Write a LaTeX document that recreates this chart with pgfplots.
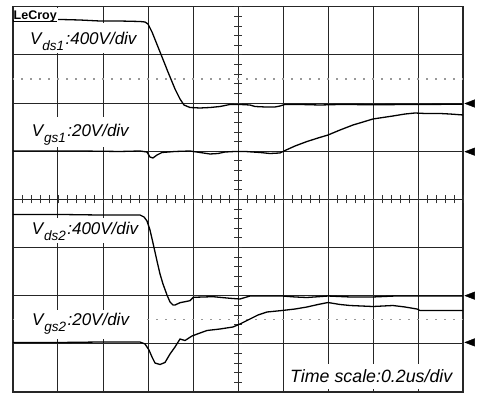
\documentclass[border=0pt]{standalone}
\usepackage{fontspec}
\setmainfont{Liberation Sans}
\usepackage{pgfplots}
\pgfplotsset{compat=1.18}
\newcommand{\lbl}[2]{{\fontsize{17}{20}\selectfont\itshape V\hspace{0.8pt}\raisebox{-6pt}{\fontsize{13.5}{14}\selectfont #1}\hspace{1.5pt}:#2}}
\begin{document}
\begin{tikzpicture}
\path[use as bounding box] (0,0) rectangle (480pt,394pt);
\fill[white] (0,0) rectangle (480pt,394pt);
\begin{axis}[
  at={(13pt,2pt)}, anchor=origin,
  scale only axis, width=450pt, height=385.3pt,
  xmin=0, xmax=10, ymin=0, ymax=8,
  xtick={0,...,10}, ytick={0,...,8},
  xticklabels={}, yticklabels={},
  major tick length=0pt,
  grid=major,
  grid style={black!85, line width=1pt},
  axis line style={black!85, line width=1.1pt},
  clip=false,
]
% centre graticule ticks
\pgfplotsinvokeforeach{0.2,0.4,...,9.9}{\draw[black!80, line width=0.8pt] (axis cs:#1,4) ++(0,-4pt) -- ++(0,8pt);}
\pgfplotsinvokeforeach{0.2,0.4,...,7.9}{\draw[black!80, line width=0.8pt] (axis cs:5,#1) ++(-4pt,0) -- ++(8pt,0);}
% dotted level lines
\draw[black!40, line width=1.3pt, dash pattern=on 1.3pt off 7.7pt, dash phase=0.65pt] (axis cs:0,6.5) -- (axis cs:10,6.5);
\draw[black!40, line width=1.3pt, dash pattern=on 1.3pt off 7.7pt, dash phase=0.65pt] (axis cs:0,1.5) -- (axis cs:10,1.5);
% label backgrounds
\fill[white] (axis cs:0.022,7.039) rectangle (axis cs:2.956,7.672);
\fill[white] (axis cs:0.022,5.087) rectangle (axis cs:2.956,5.710);
\fill[white] (axis cs:0.022,3.094) rectangle (axis cs:2.956,3.623);
\fill[white] (axis cs:0.022,1.100) rectangle (axis cs:2.956,1.703);
\fill[white] (axis cs:6.044,0.062) rectangle (axis cs:9.933,0.581);

% Vds1
\addplot[black, line width=1.3pt] coordinates {
(0,7.714) (0.6,7.724) (1.044,7.735) (1.489,7.724) (1.933,7.703) (2.378,7.703)
(2.822,7.693) (2.933,7.683) (3.0,7.641) (3.089,7.475) (3.267,7.060) (3.444,6.645)
(3.6,6.292) (3.711,6.084) (3.8,5.959) (3.933,5.907) (4.156,5.897) (4.378,5.907)
(4.6,5.928) (4.822,5.970) (5.044,5.970) (5.267,5.959) (5.378,5.928) (5.6,5.918)
(5.822,5.918) (5.933,5.938) (6.044,5.970) (6.378,5.970) (6.822,5.959) (7.267,5.970)
(8.0,5.965) (9.0,5.970) (10,5.975)};
% Vgs1
\addplot[black, line width=1.3pt] coordinates {
(0,5.004) (0.6,5.004) (1.489,5.004) (2.378,4.994) (2.822,5.004) (2.978,4.983)
(3.044,4.879) (3.111,4.859) (3.2,4.921) (3.311,4.973) (3.6,4.994) (3.933,5.004)
(4.156,4.973) (4.378,4.942) (4.556,4.952) (4.711,4.983) (4.933,4.994) (5.156,4.994)
(5.489,4.973) (5.711,4.952) (5.933,4.963) (6.044,5.014) (6.267,5.108) (6.533,5.201)
(6.778,5.274) (7.0,5.336) (7.267,5.440) (7.556,5.544) (7.778,5.606) (8.0,5.669)
(8.222,5.700) (8.444,5.731) (8.711,5.772) (8.933,5.793) (9.156,5.783) (9.489,5.783)
(9.711,5.772) (10,5.752)};
% Vds2
\addplot[black, line width=1.3pt] coordinates {
(0,3.686) (1.044,3.686) (1.933,3.675) (2.822,3.675) (2.911,3.634) (2.978,3.551)
(3.044,3.364) (3.111,3.094) (3.2,2.720) (3.267,2.450) (3.333,2.243) (3.422,2.014)
(3.489,1.869) (3.556,1.806) (3.6,1.806) (3.711,1.854) (3.933,1.896) (4.007,1.966)
(4.444,1.979) (4.822,1.946) (5.044,1.931) (5.267,1.993) (5.6,1.993) (5.978,1.993)
(6.267,1.973) (6.533,1.962) (7.0,1.993) (7.489,1.973) (8.0,1.973) (8.489,1.993)
(9.044,1.993) (9.489,1.993) (10,1.993)};
% Vgs2
\addplot[black, line width=1.3pt] coordinates {
(0,1.028) (1.044,1.028) (1.933,1.038) (2.822,1.038) (2.933,0.997) (3.022,0.872)
(3.089,0.727) (3.156,0.602) (3.267,0.571) (3.378,0.613) (3.489,0.789) (3.6,0.934)
(3.711,1.100) (3.822,1.069) (3.978,1.163) (4.156,1.225) (4.311,1.277) (4.6,1.308)
(4.889,1.350) (5.044,1.412) (5.267,1.516) (5.444,1.599) (5.644,1.661) (5.978,1.692)
(6.267,1.723) (6.533,1.765) (6.778,1.817) (7.0,1.858) (7.267,1.817) (7.489,1.796)
(8.0,1.775) (8.444,1.796) (8.711,1.765) (8.978,1.723) (9.044,1.692) (9.489,1.692)
(10,1.692)};
% channel ground markers
\addplot[only marks, mark=triangle*, mark size=4.3pt,
  mark options={rotate=90, yscale=1.5, fill=black, draw=black}]
  coordinates {(10.185,5.99) (10.185,4.99) (10.185,2.0) (10.185,1.03)};

% texts
\node[anchor=base west, inner sep=0pt] at (axis cs:0.378,7.205) {\lbl{ds1}{400V/div}};
\node[anchor=base west, inner sep=0pt] at (axis cs:0.416,5.301) {\lbl{gs1}{20V/div}};
\node[anchor=base west, inner sep=0pt] at (axis cs:0.416,3.260) {\lbl{ds2}{400V/div}};
\node[anchor=base west, inner sep=0pt] at (axis cs:0.422,1.377) {\lbl{gs2}{20V/div}};
\node[anchor=base west, inner sep=0pt] at (axis cs:6.156,0.187) {\fontsize{17.8}{20}\selectfont\itshape Time scale:0.2us/div};
% logo
\fill[white] (axis cs:0.022,7.662) rectangle (axis cs:0.989,7.973);
\node[anchor=base west, inner sep=0pt] at (axis cs:0.011,7.735) {\fontsize{12.5}{13}\selectfont\bfseries LeCroy};
\draw[black, line width=1pt] (axis cs:0.011,7.69) -- (axis cs:0.98,7.69);
\end{axis}
\end{tikzpicture}
\end{document}
